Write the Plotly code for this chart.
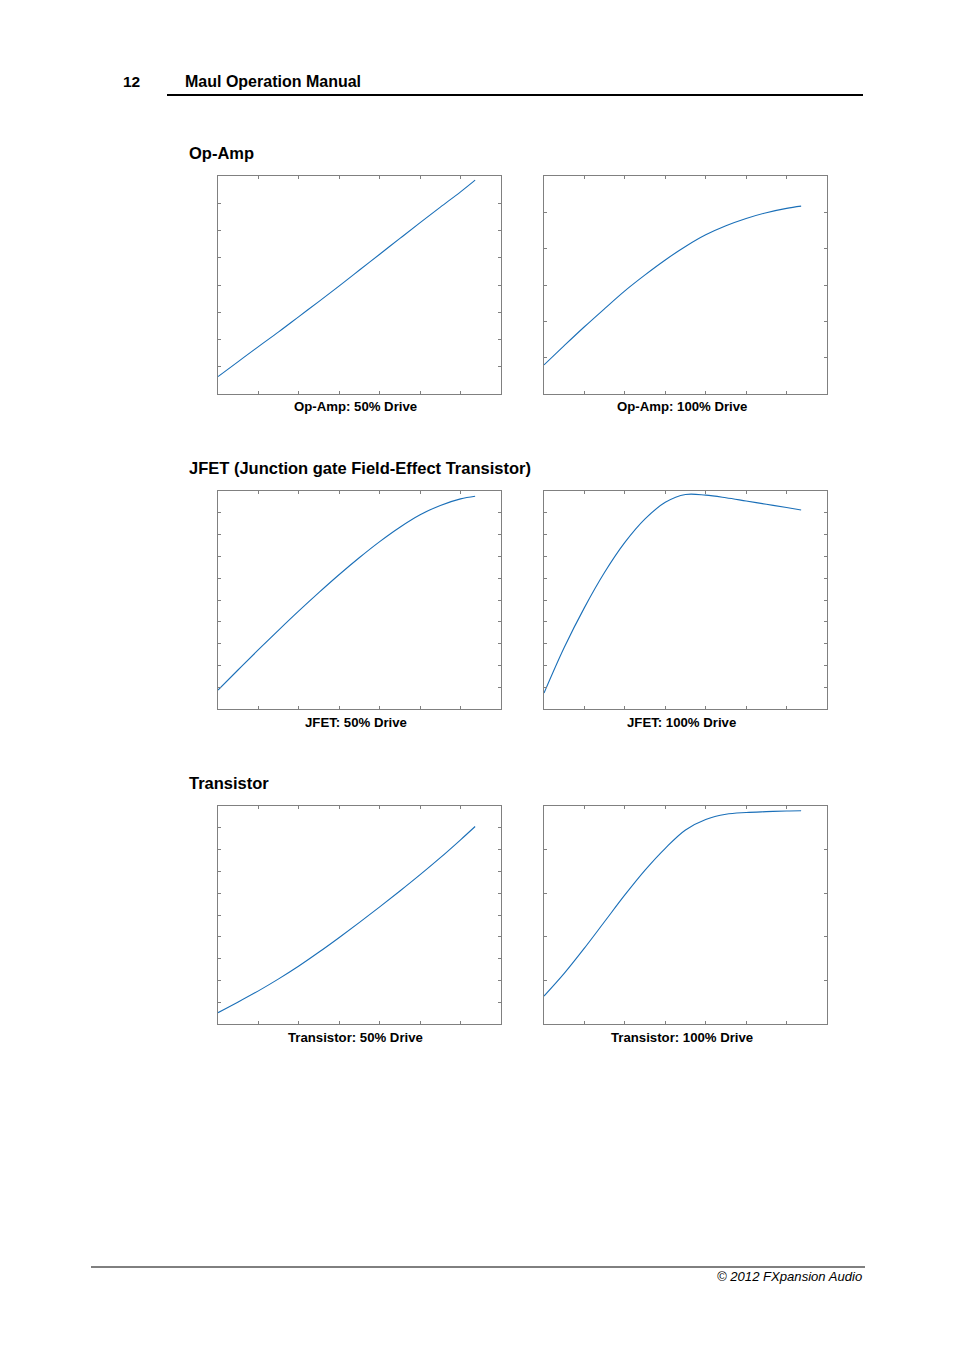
import plotly.graph_objects as go

# drive input (x axis, 7 tick intervals) shared by every panel
drive_x = [0, 0.5, 1.0, 1.5, 2.0, 2.5, 3.0, 3.5, 4.0, 4.5, 5.0, 5.5, 6.0, 6.36]

# output curves (units = y tick intervals)
opamp_50 = [0.64, 1.19, 1.74, 2.28, 2.84, 3.40, 3.97, 4.55, 5.13, 5.71, 6.29, 6.86, 7.42, 7.85]
opamp_100 = [0.80, 1.33, 1.85, 2.35, 2.84, 3.28, 3.69, 4.06, 4.38, 4.63, 4.83, 4.99, 5.11, 5.17]
jfet_50 = [0.87, 1.80, 2.72, 3.62, 4.50, 5.35, 6.17, 6.95, 7.68, 8.34, 8.91, 9.34, 9.64, 9.76]
jfet_100 = [0.73, 2.82, 4.65, 6.27, 7.64, 8.72, 9.48, 9.84, 9.81, 9.69, 9.54, 9.39, 9.24, 9.13]
trans_50 = [0.52, 1.01, 1.52, 2.07, 2.66, 3.30, 3.97, 4.66, 5.37, 6.10, 6.85, 7.63, 8.45, 9.06]
trans_100 = [0.64, 1.16, 1.74, 2.35, 2.96, 3.53, 4.03, 4.45, 4.69, 4.81, 4.85, 4.87, 4.885, 4.89]

section_titles = ["Op-Amp", "JFET (Junction gate Field-Effect Transistor)", "Transistor"]
panel_titles = [
    "Op-Amp: 50% Drive", "Op-Amp: 100% Drive",
    "JFET: 50% Drive", "JFET: 100% Drive",
    "Transistor: 50% Drive", "Transistor: 100% Drive",
]
panel_data = [opamp_50, opamp_100, jfet_50, jfet_100, trans_50, trans_100]
y_intervals = [8, 6, 10, 10, 10, 5]

W, H = 954, 1351
OFF = 8  # page margin around the plot in the browser
col_px = [(218, 501), (544, 827)]
row_px = [(176, 394), (491, 709), (806, 1024)]
section_y = [153, 468, 783]
LINE = "#1a6fb8"
AXIS = "#808080"


def px(x):
    return (x - OFF) / W


def py(y):
    return 1 - (y - OFF) / H


fig = go.Figure()
layout = {}
annots = []

for i, ys in enumerate(panel_data):
    r, c = divmod(i, 2)
    n = i + 1
    x0, x1 = col_px[c]
    top, bot = row_px[r]
    fig.add_trace(go.Scatter(
        x=drive_x, y=ys, mode="lines", line=dict(color=LINE, width=1.1, shape="spline"),
        xaxis=f"x{n}", yaxis=f"y{n}", showlegend=False, hoverinfo="skip",
    ))
    common = dict(
        showline=True, linecolor=AXIS, linewidth=1, mirror="ticks",
        ticks="inside", ticklen=3, tickcolor=AXIS, tickwidth=1,
        showticklabels=False, showgrid=False, zeroline=False, fixedrange=True,
    )
    layout[f"xaxis{n}"] = dict(common, domain=[px(x0), px(x1)], range=[0, 7], dtick=1,
                                tick0=0, anchor=f"y{n}")
    layout[f"yaxis{n}"] = dict(common, domain=[py(bot), py(top)],
                                range=[0, y_intervals[i]], dtick=1, tick0=0, anchor=f"x{n}")
    annots.append(dict(
        text=panel_titles[i], x=px((x0 + x1) / 2 - 4), y=py(bot + 13),
        xref="paper", yref="paper", showarrow=False, xanchor="center", yanchor="middle",
        font=dict(family="Liberation Sans", size=13.2, color="black", weight="bold"),
    ))

for t, y in zip(section_titles, section_y):
    annots.append(dict(
        text=t, x=px(187), y=py(y), xref="paper", yref="paper", showarrow=False,
        xanchor="left", yanchor="middle",
        font=dict(family="Liberation Sans", size=16.5, color="black", weight="bold"),
    ))

# page header and footer
annots.append(dict(text="12", x=px(121), y=py(82), xref="paper", yref="paper",
                   showarrow=False, xanchor="left", yanchor="middle",
                   font=dict(family="Liberation Sans", size=15.5, color="black", weight="bold")))
annots.append(dict(text="Maul Operation Manual", x=px(183), y=py(82), xref="paper",
                   yref="paper", showarrow=False, xanchor="left", yanchor="middle",
                   font=dict(family="Liberation Sans", size=16, color="black", weight="bold")))
annots.append(dict(text="© 2012 FXpansion Audio", x=px(864), y=py(1276), xref="paper",
                   yref="paper", showarrow=False, xanchor="right", yanchor="middle",
                   font=dict(family="Liberation Sans", size=13.1, color="black", style="italic")))

shapes = [
    dict(type="line", xref="paper", yref="paper", x0=px(167), x1=px(863),
         y0=py(95), y1=py(95), line=dict(color="black", width=2)),
    dict(type="line", xref="paper", yref="paper", x0=px(91), x1=px(865),
         y0=py(1267), y1=py(1267), line=dict(color="black", width=1)),
]

fig.update_layout(
    width=W, height=H, margin=dict(l=0, r=0, t=0, b=0),
    paper_bgcolor="white", plot_bgcolor="white",
    annotations=annots, shapes=shapes, **layout,
)
fig.write_html("out.html")
